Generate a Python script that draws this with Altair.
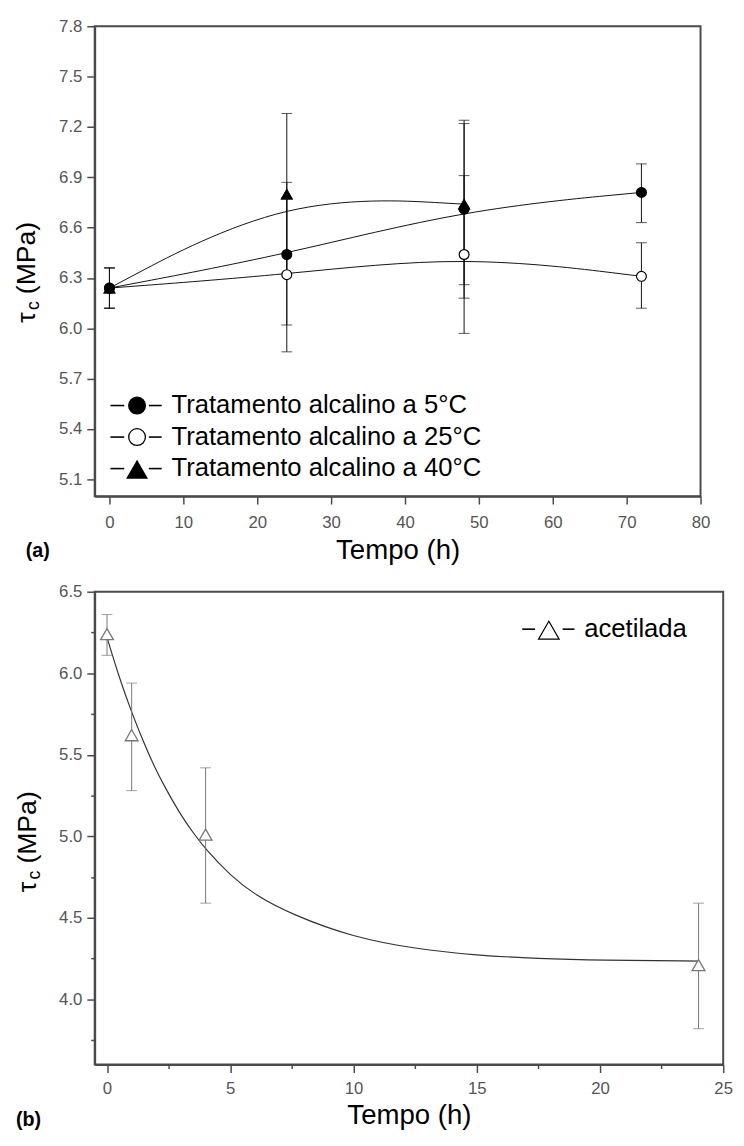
import altair as alt
import pandas as pd

# ---------------- Panel (a) data ----------------
series_a = ["5°C", "25°C", "40°C"]
hours_5 = [0, 24, 48, 72]
mean_5 = [6.24, 6.44, 6.71, 6.81]
hi_5 = [6.36, 6.87, 7.24, 6.98]
lo_5 = [6.12, 6.02, 6.18, 6.63]

hours_25 = [0, 24, 48, 72]
mean_25 = [6.24, 6.32, 6.44, 6.31]
hi_25 = [6.36, 6.78, 6.91, 6.51]
lo_25 = [6.12, 5.86, 5.97, 6.12]

hours_40 = [0, 24, 48]
mean_40 = [6.24, 6.80, 6.74]
hi_40 = [6.36, 7.28, 7.22]
lo_40 = [6.12, 6.32, 6.26]

legend_a = ["Tratamento alcalino a 5°C",
            "Tratamento alcalino a 25°C",
            "Tratamento alcalino a 40°C"]

# ---------------- Panel (b) data ----------------
hours_b = [0, 1, 4, 24]
mean_b = [6.24, 5.62, 5.01, 4.21]
hi_b = [6.36, 5.94, 5.42, 4.59]
lo_b = [6.11, 5.28, 4.59, 3.82]
fit_x_b = [0, 0.5, 1, 1.5, 2, 2.5, 3, 3.5, 4, 5, 6, 7.5, 10, 12.5, 15, 17.5, 20, 24]
fit_y_b = [6.22, 5.97, 5.76, 5.57, 5.40, 5.26, 5.13, 5.02, 4.92, 4.76, 4.64, 4.52, 4.38, 4.31, 4.27, 4.25, 4.24, 4.235]
legend_b = ["acetilada"]

x_title = "Tempo (h)"
y_title_parts = ["τ", "c", "(MPa)"]
panel_tags = ["(a)", "(b)"]

rows = []
for name, hs, m, h, l in [("5°C", hours_5, mean_5, hi_5, lo_5),
                          ("25°C", hours_25, mean_25, hi_25, lo_25),
                          ("40°C", hours_40, mean_40, hi_40, lo_40)]:
    for i in range(len(hs)):
        rows.append({"serie": name, "t": hs[i], "tau": m[i], "hi": h[i], "lo": l[i]})
df_a = pd.DataFrame(rows)
df_b = pd.DataFrame({"t": hours_b, "tau": mean_b, "hi": hi_b, "lo": lo_b})
df_fit_b = pd.DataFrame({"t": fit_x_b, "tau": fit_y_b})

AX = "#4a4a4a"
LBL = "#555555"
FONT = "Liberation Sans, Arial, Helvetica"
ONE = pd.DataFrame({"k": [0]})


def xaxis(values, major, lpad, tpad):
    return alt.Axis(
        values=values, title=x_title, grid=False,
        labelExpr=f"abs(datum.value % {major}) < 1e-6 ? datum.label : ''",
        tickSize=alt.ConditionalAxisNumber(
            condition={"test": f"abs(datum.value % {major}) < 1e-6", "value": 8}, value=4),
        labelPadding=lpad, labelFontSize=17, labelColor=LBL, labelFont=FONT,
        titleFontSize=28, titleFont=FONT, titleFontWeight="normal", titleColor="black",
        titlePadding=tpad, domainColor=AX, domainWidth=2, tickColor=AX, tickWidth=1.5,
        labelFlush=False, format="d")


def yaxis(values, major100):
    return alt.Axis(
        values=values, title=None, grid=False, format=".1f",
        labelExpr=f"round(datum.value*100) % {major100} === 0 ? datum.label : ''",
        tickSize=alt.ConditionalAxisNumber(
            condition={"test": f"round(datum.value*100) % {major100} === 0", "value": 8}, value=4),
        labelPadding=5, labelFontSize=17, labelColor=LBL, labelFont=FONT,
        domainColor=AX, domainWidth=2, tickColor=AX, tickWidth=1.5, labelFlush=False)


def txt(s, x, y, size, **kw):
    return alt.Chart(pd.DataFrame({"s": [s]})).mark_text(
        font=FONT, fontSize=size, color="black", **kw).encode(
        text="s:N", x=alt.value(x), y=alt.value(y))


def dash(x1, x2, y, color="black"):
    return alt.Chart(ONE).mark_rule(color=color, strokeWidth=1.6).encode(
        x=alt.value(x1), x2=alt.value(x2), y=alt.value(y))


def y_title(xb, ystart):
    return [
        txt(y_title_parts[0], xb, ystart, 27, angle=270, align="left", baseline="alphabetic"),
        txt(y_title_parts[1], xb + 4, ystart - 13, 18, angle=270, align="left", baseline="alphabetic"),
        txt(y_title_parts[2], xb, ystart - 29, 27, angle=270, align="left", baseline="alphabetic"),
    ]


# ---------------- Panel (a) ----------------
xa_vals = [v * 5 for v in range(0, 17)]
ya_vals = [round(5.1 + 0.15 * i, 2) for i in range(0, 19)]
xa = alt.X("t:Q", scale=alt.Scale(domain=[-2, 80], nice=False, zero=False), axis=xaxis(xa_vals, 10, 11, 6))
ya = alt.Y("tau:Q", scale=alt.Scale(domain=[5.0, 7.8], nice=False, zero=False), axis=yaxis(ya_vals, 30))

base_a = alt.Chart(df_a)
lines_a = base_a.mark_line(interpolate="basis", color="#111111", strokeWidth=1).encode(
    x=xa, y=ya, detail="serie:N")
rules_a = base_a.mark_rule(color="#111111", strokeWidth=1).encode(x="t:Q", y="lo:Q", y2="hi:Q")
cap_hi_a = base_a.mark_tick(orient="horizontal", color="#111111", size=11, thickness=1).encode(x="t:Q", y="hi:Q")
cap_lo_a = base_a.mark_tick(orient="horizontal", color="#111111", size=11, thickness=1).encode(x="t:Q", y="lo:Q")
pts_a = base_a.mark_point(size=100, strokeWidth=1.2, opacity=1).encode(
    x="t:Q", y="tau:Q",
    shape=alt.Shape("serie:N", scale=alt.Scale(domain=series_a, range=["circle", "circle", "triangle-up"]), legend=None),
    fill=alt.Fill("serie:N", scale=alt.Scale(domain=series_a, range=["black", "white", "black"]), legend=None),
    stroke=alt.value("black"),
    order=alt.Order("serie:N"))
pts40 = alt.Chart(df_a[df_a.serie == "40°C"]).mark_point(
    shape="triangle-up", size=170, filled=True, color="black", opacity=1).encode(x="t:Q", y="tau:Q")

leg_a = []
leg_shapes = ["circle", "circle", "triangle-up"]
leg_fills = ["black", "white", "black"]
leg_sizes = [289, 289, 400]
for i, label in enumerate(legend_a):
    yy = 385 + 32 * i
    leg_a.append(dash(16, 30, yy))
    leg_a.append(alt.Chart(ONE).mark_point(shape=leg_shapes[i], size=leg_sizes[i], fill=leg_fills[i],
                                           stroke="black", strokeWidth=1.3, opacity=1).encode(
        x=alt.value(43), y=alt.value(yy + (1 if i == 2 else 0))))
    leg_a.append(dash(55, 68, yy))
    leg_a.append(txt(label, 78, yy, 26, align="left", baseline="middle"))

tag_a = txt(panel_tags[0], -70, 533, 20, align="left", baseline="middle", fontWeight="bold")

panel_a = alt.layer(lines_a, rules_a, cap_hi_a, cap_lo_a, pts_a, pts40, *leg_a, tag_a,
                    *y_title(-61, 301)).properties(width=615, height=477)

# ---------------- Panel (b) ----------------
GR = "#777777"
xb_vals = [v * 2.5 for v in range(0, 11)]
yb_vals = [round(3.75 + 0.25 * i, 2) for i in range(0, 12)]
xb = alt.X("t:Q", scale=alt.Scale(domain=[-0.5, 25], nice=False, zero=False), axis=xaxis(xb_vals, 5, 8, 6))
yb = alt.Y("tau:Q", scale=alt.Scale(domain=[3.6, 6.5], nice=False, zero=False), axis=yaxis(yb_vals, 50))

fit_b = alt.Chart(df_fit_b).mark_line(interpolate="basis", color="#333333", strokeWidth=1.2).encode(x=xb, y=yb)
base_b = alt.Chart(df_b)
rules_b = base_b.mark_rule(color=GR, strokeWidth=1).encode(x="t:Q", y="lo:Q", y2="hi:Q")
cap_hi_b = base_b.mark_tick(orient="horizontal", color=GR, size=11, thickness=1).encode(x="t:Q", y="hi:Q")
cap_lo_b = base_b.mark_tick(orient="horizontal", color=GR, size=11, thickness=1).encode(x="t:Q", y="lo:Q")
pts_b_fill = base_b.mark_point(shape="triangle-up", size=169, filled=True, color="white",
                               opacity=1).encode(x="t:Q", y="tau:Q")
pts_b = base_b.mark_point(shape="triangle-up", size=169, filled=False,
                          stroke=GR, strokeWidth=1.3, opacity=1).encode(x="t:Q", y="tau:Q")

leg_b = [
    dash(434, 447, 38),
    alt.Chart(ONE).mark_point(shape="triangle-up", size=441, filled=False, stroke="black",
                              strokeWidth=1.2, opacity=1).encode(x=alt.value(461), y=alt.value(39)),
    dash(475, 487, 38),
    txt(legend_b[0], 497, 38, 26, align="left", baseline="middle"),
]
tag_b = txt(panel_tags[1], -80, 536, 20, align="left", baseline="middle", fontWeight="bold")

panel_b = alt.layer(fit_b, rules_b, cap_hi_b, cap_lo_b, pts_b_fill, pts_b, *leg_b, tag_b,
                    *y_title(-60, 305)).properties(width=638, height=480)

chart = alt.vconcat(panel_a, panel_b, spacing=17).properties(
    padding={"left": 4, "top": 0, "right": 2, "bottom": 0}
).configure(background="white").configure_view(stroke=AX, strokeWidth=2)

chart.save("out.html", embed_options={"renderer": "svg", "actions": False})
